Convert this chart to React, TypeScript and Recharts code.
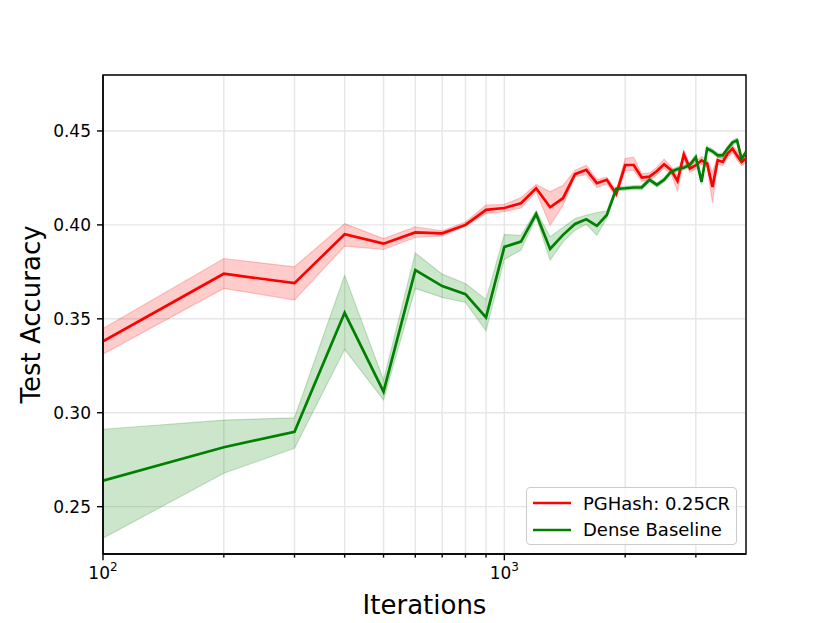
import { ComposedChart, Line, Area, XAxis, YAxis, CartesianGrid, ReferenceArea, Label } from 'recharts'

// iterations (x values, log axis)
const iters = [
  100, 200, 300, 400, 500, 600, 700, 800, 900, 1000,
  1100, 1200, 1300, 1400, 1500, 1600, 1700, 1800, 1900, 2000,
  2100, 2200, 2300, 2400, 2500, 2600, 2700, 2800, 2900, 3000,
  3100, 3200, 3300, 3400, 3500, 3600, 3700, 3800, 3900, 4000,
]

// PGHash: 0.25CR
const pgMean = [
  0.338, 0.374, 0.369, 0.395, 0.390, 0.396, 0.3955, 0.400, 0.408, 0.409,
  0.4115, 0.4195, 0.4094, 0.4142, 0.427, 0.4293, 0.4222, 0.424, 0.4165, 0.4319,
  0.4319, 0.4252, 0.4257, 0.4287, 0.4323, 0.4293, 0.4234, 0.4375, 0.430, 0.4318,
  0.4344, 0.4327, 0.4202, 0.4344, 0.4335, 0.438, 0.4406, 0.437, 0.4335, 0.4353,
]
const pgLow = [
  0.3312, 0.3662, 0.3600, 0.3887, 0.3869, 0.3933, 0.3942, 0.3993, 0.4061, 0.4070,
  0.4090, 0.4175, 0.3998, 0.4105, 0.4257, 0.4267, 0.4199, 0.4218, 0.4149, 0.4291,
  0.4290, 0.4232, 0.4237, 0.4267, 0.4300, 0.4273, 0.4180, 0.4345, 0.4280, 0.4298,
  0.4324, 0.4307, 0.4117, 0.4324, 0.4315, 0.4360, 0.4386, 0.4345, 0.4315, 0.4333,
]
const pgHigh = [
  0.3449, 0.3821, 0.3777, 0.4007, 0.3927, 0.3990, 0.3969, 0.4015, 0.4105, 0.4110,
  0.4145, 0.4215, 0.4176, 0.4211, 0.4291, 0.4317, 0.4241, 0.4254, 0.4185, 0.4353,
  0.4360, 0.4272, 0.4277, 0.4307, 0.4350, 0.4313, 0.4260, 0.4400, 0.4320, 0.4338,
  0.4364, 0.4347, 0.4280, 0.4364, 0.4355, 0.4400, 0.4426, 0.4395, 0.4355, 0.4373,
]

// Dense Baseline
const denseMean = [
  0.2638, 0.2816, 0.2899, 0.3532, 0.3112, 0.3759, 0.3674, 0.3631, 0.3507, 0.3883,
  0.3911, 0.4058, 0.3872, 0.3947, 0.4005, 0.4030, 0.3995, 0.4053, 0.4192, 0.4195,
  0.4199, 0.4200, 0.4240, 0.4213, 0.4240, 0.4282, 0.4297, 0.4305, 0.4321, 0.4360,
  0.4229, 0.4407, 0.4392, 0.4370, 0.4370, 0.4407, 0.4438, 0.4450, 0.4350, 0.4388,
]
const denseLow = [
  0.2332, 0.2678, 0.2811, 0.3337, 0.3068, 0.3662, 0.3614, 0.3587, 0.3436, 0.3816,
  0.3866, 0.4040, 0.3812, 0.3910, 0.3972, 0.4004, 0.3945, 0.4035, 0.4182, 0.4185,
  0.4189, 0.4188, 0.4228, 0.4201, 0.4228, 0.4270, 0.4285, 0.4293, 0.4309, 0.4345,
  0.4214, 0.4395, 0.4380, 0.4358, 0.4358, 0.4395, 0.4426, 0.4438, 0.4338, 0.4376,
]
const denseHigh = [
  0.2912, 0.2961, 0.2973, 0.3732, 0.3174, 0.3851, 0.3738, 0.3688, 0.3603, 0.3949,
  0.3945, 0.4075, 0.3937, 0.3986, 0.4034, 0.4052, 0.4065, 0.4075, 0.4202, 0.4205,
  0.4209, 0.4212, 0.4252, 0.4225, 0.4252, 0.4294, 0.4309, 0.4317, 0.4333, 0.4375,
  0.4244, 0.4419, 0.4404, 0.4382, 0.4382, 0.4419, 0.4450, 0.4462, 0.4362, 0.4400,
]

const xTicks = [100, 200, 300, 400, 500, 600, 700, 800, 900, 1000, 2000, 3000]
const xMajor = [100, 1000]
const yTicks = [0.25, 0.3, 0.35, 0.4, 0.45]
const X_DOMAIN: [number, number] = [100, 4000]
const Y_DOMAIN: [number, number] = [0.2248, 0.4798]

const RED = '#ff0000'
const GREEN = '#008000'
const FONT = '"DejaVu Sans", sans-serif'

const data = iters.map((it, i) => ({
  it,
  pg: pgMean[i],
  pgBand: [pgLow[i], pgHigh[i]],
  dense: denseMean[i],
  denseBand: [denseLow[i], denseHigh[i]],
}))

function XTick(props: any) {
  const { x, y, payload } = props
  const v = payload.value
  const major = xMajor.includes(v)
  return (
    <g>
      <line x1={x} x2={x} y1={y} y2={y + (major ? 6.3 : 3.6)} stroke="#000" strokeWidth={1.4} />
      {major && (
        <text x={x} y={y + 25} textAnchor="middle" fontSize={17} fontFamily={FONT} fill="#000">
          10
          <tspan fontSize={12} dy={-8}>{Math.round(Math.log10(v))}</tspan>
        </text>
      )}
    </g>
  )
}

function LegendBox() {
  const rows = [
    { label: 'PGHash: 0.25CR', color: RED },
    { label: 'Dense Baseline', color: GREEN },
  ]
  return (
    <div
      style={{
        position: 'absolute', left: 526, top: 487, width: 211, height: 58,
        boxSizing: 'border-box', border: '1.2px solid #cccccc', borderRadius: 4,
        background: 'rgba(255,255,255,0.8)', fontFamily: FONT, fontSize: 18,
        paddingTop: 2,
      }}
    >
      {rows.map(r => (
        <div key={r.label} style={{ display: 'flex', alignItems: 'center', height: 26.6 }}>
          <svg width={56} height={10} style={{ flex: 'none' }}>
            <line x1={6} x2={44} y1={5} y2={5} stroke={r.color} strokeWidth={2.7} />
          </svg>
          <span style={{ color: '#000', whiteSpace: 'nowrap' }}>{r.label}</span>
        </div>
      ))}
    </div>
  )
}

export default function App() {
  return (
    <div style={{ position: 'absolute', left: 0, top: 0, width: 830, height: 623, background: '#fff' }}>
      <ComposedChart width={830} height={623} data={data} margin={{ top: 75, right: 84, bottom: 0, left: 43 }}>
        <CartesianGrid stroke="#e6e6e6" strokeWidth={1.4} />
        <XAxis
          dataKey="it"
          type="number"
          scale="log"
          domain={X_DOMAIN}
          allowDataOverflow
          ticks={xTicks}
          interval={0}
          height={69}
          tickSize={0}
          tickMargin={0}
          tickLine={false}
          tick={<XTick />}
          axisLine={{ stroke: '#000', strokeWidth: 1.4 }}
        >
          <Label
            content={({ viewBox }: any) => (
              <text x={viewBox.x + viewBox.width / 2} y={614} textAnchor="middle" fontSize={26} fontFamily={FONT} fill="#000">
                Iterations
              </text>
            )}
          />
        </XAxis>
        <YAxis
          type="number"
          domain={Y_DOMAIN}
          allowDataOverflow
          ticks={yTicks}
          interval={0}
          width={60}
          tickSize={6}
          tickMargin={6}
          tickFormatter={(v: number) => v.toFixed(2)}
          tick={{ fontSize: 17, fill: '#000', fontFamily: FONT }}
          tickLine={{ stroke: '#000', strokeWidth: 1.4 }}
          axisLine={{ stroke: '#000', strokeWidth: 1.4 }}
        >
          <Label
            content={({ viewBox }: any) => (
              <text
                x={40}
                y={viewBox.y + viewBox.height / 2}
                transform={`rotate(-90 40 ${viewBox.y + viewBox.height / 2})`}
                textAnchor="middle"
                fontSize={26}
                fontFamily={FONT}
                fill="#000"
              >
                Test Accuracy
              </text>
            )}
          />
        </YAxis>
        <Area
          dataKey="pgBand"
          type="linear"
          fill={RED}
          fillOpacity={0.2}
          stroke={RED}
          strokeOpacity={0.2}
          strokeWidth={1.2}
          dot={false}
          activeDot={false}
          isAnimationActive={false}
        />
        <Line dataKey="pg" type="linear" stroke={RED} strokeWidth={2.7} dot={false} activeDot={false} isAnimationActive={false} />
        <Area
          dataKey="denseBand"
          type="linear"
          fill={GREEN}
          fillOpacity={0.2}
          stroke={GREEN}
          strokeOpacity={0.2}
          strokeWidth={1.2}
          dot={false}
          activeDot={false}
          isAnimationActive={false}
        />
        <Line dataKey="dense" type="linear" stroke={GREEN} strokeWidth={2.7} dot={false} activeDot={false} isAnimationActive={false} />
        <ReferenceArea
          x1={X_DOMAIN[0]}
          x2={X_DOMAIN[1]}
          y1={Y_DOMAIN[0]}
          y2={Y_DOMAIN[1]}
          fill="none"
          stroke="#000"
          strokeWidth={1.4}
          ifOverflow="visible"
        />
      </ComposedChart>
      <LegendBox />
    </div>
  )
}
